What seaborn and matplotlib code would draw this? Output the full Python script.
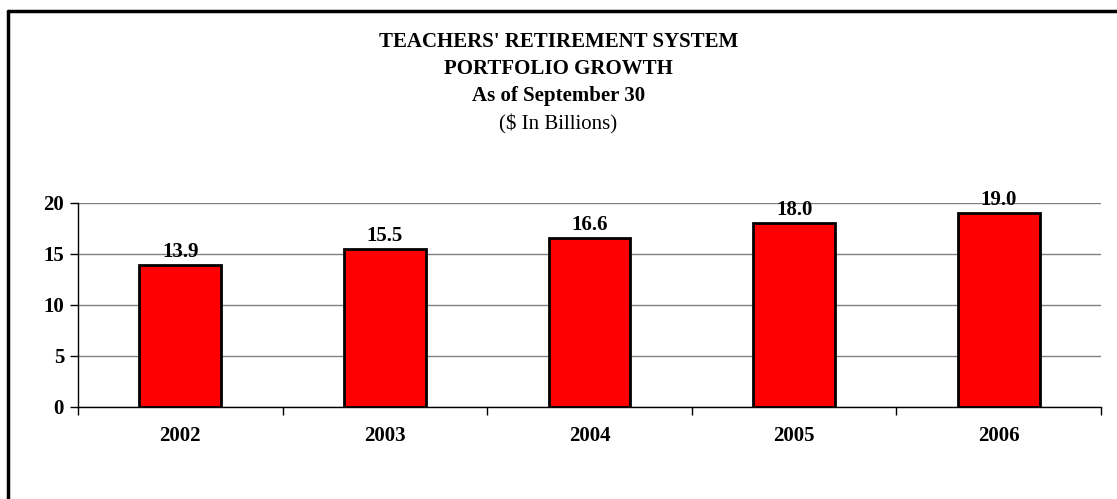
import matplotlib
matplotlib.use("Agg")
import matplotlib.pyplot as plt
import seaborn as sns
import pandas as pd
from matplotlib.lines import Line2D

# data
years = ["2002", "2003", "2004", "2005", "2006"]
values = [13.9, 15.5, 16.6, 18.0, 19.0]
title_lines = ["TEACHERS' RETIREMENT SYSTEM", "PORTFOLIO GROWTH", "As of September 30"]
subtitle = "($ In Billions)"

sns.set_style("white")
plt.rcParams["font.family"] = ["Liberation Serif", "DejaVu Serif"]
plt.rcParams["text.color"] = "black"
plt.rcParams["xtick.color"] = "black"
plt.rcParams["ytick.color"] = "black"

df = pd.DataFrame({"year": years, "value": values})

fig = plt.figure(figsize=(11.17, 4.99), dpi=100)
ax = fig.add_axes([0.0698, 0.1844, 0.9159, 0.4088])

sns.barplot(data=df, x="year", y="value", color="#ff0000", width=0.4,
            edgecolor="black", linewidth=2, saturation=1, ax=ax, zorder=3)

ax.set_ylim(0, 20)
ax.set_xlim(-0.5, len(years) - 0.5)
ax.set_yticks([0, 5, 10, 15, 20])
ax.yaxis.grid(True, color="#808080", linewidth=1, zorder=0)
ax.set_axisbelow(True)

# value labels above bars
for i, v in enumerate(values):
    ax.text(i, v + 0.3, f"{v:.1f}", ha="center", va="bottom",
            fontsize=15, fontweight="bold")

# category ticks between bars, labels centered
ax.set_xticks([i - 0.5 for i in range(len(years) + 1)], minor=False)
ax.set_xticklabels([])
ax.set_xticks(range(len(years)), minor=True)
ax.set_xticklabels(years, minor=True, fontsize=15, fontweight="bold")
ax.tick_params(axis="x", which="major", length=6, width=1, color="black", direction="out", bottom=True)
ax.tick_params(axis="x", which="minor", length=0, pad=14)
ax.tick_params(axis="y", length=6, width=1, direction="out", left=True, labelsize=15, pad=4)
for lab in ax.get_yticklabels():
    lab.set_fontweight("bold")

ax.set_xlabel("")
ax.set_ylabel("")
for s in ["top", "right"]:
    ax.spines[s].set_visible(False)
ax.spines["left"].set_color("black")
ax.spines["bottom"].set_color("black")
ax.spines["left"].set_linewidth(1)
ax.spines["bottom"].set_linewidth(1)

# titles
ys = [42, 69, 96]
for t, y in zip(title_lines, ys):
    fig.text(0.5, 1 - y / 499, t, ha="center", va="center", fontsize=15, fontweight="bold")
fig.text(0.5, 1 - 124 / 499, subtitle, ha="center", va="center", fontsize=15)

# frame: top and left edges only
fig.lines.append(Line2D([7.5 / 1117, 1], [1 - 10.5 / 499, 1 - 10.5 / 499],
                        transform=fig.transFigure, color="black", linewidth=2.5))
fig.lines.append(Line2D([7.5 / 1117, 7.5 / 1117], [0, 1 - 10.5 / 499],
                        transform=fig.transFigure, color="black", linewidth=2.5))

fig.savefig("out.png", dpi=100)
